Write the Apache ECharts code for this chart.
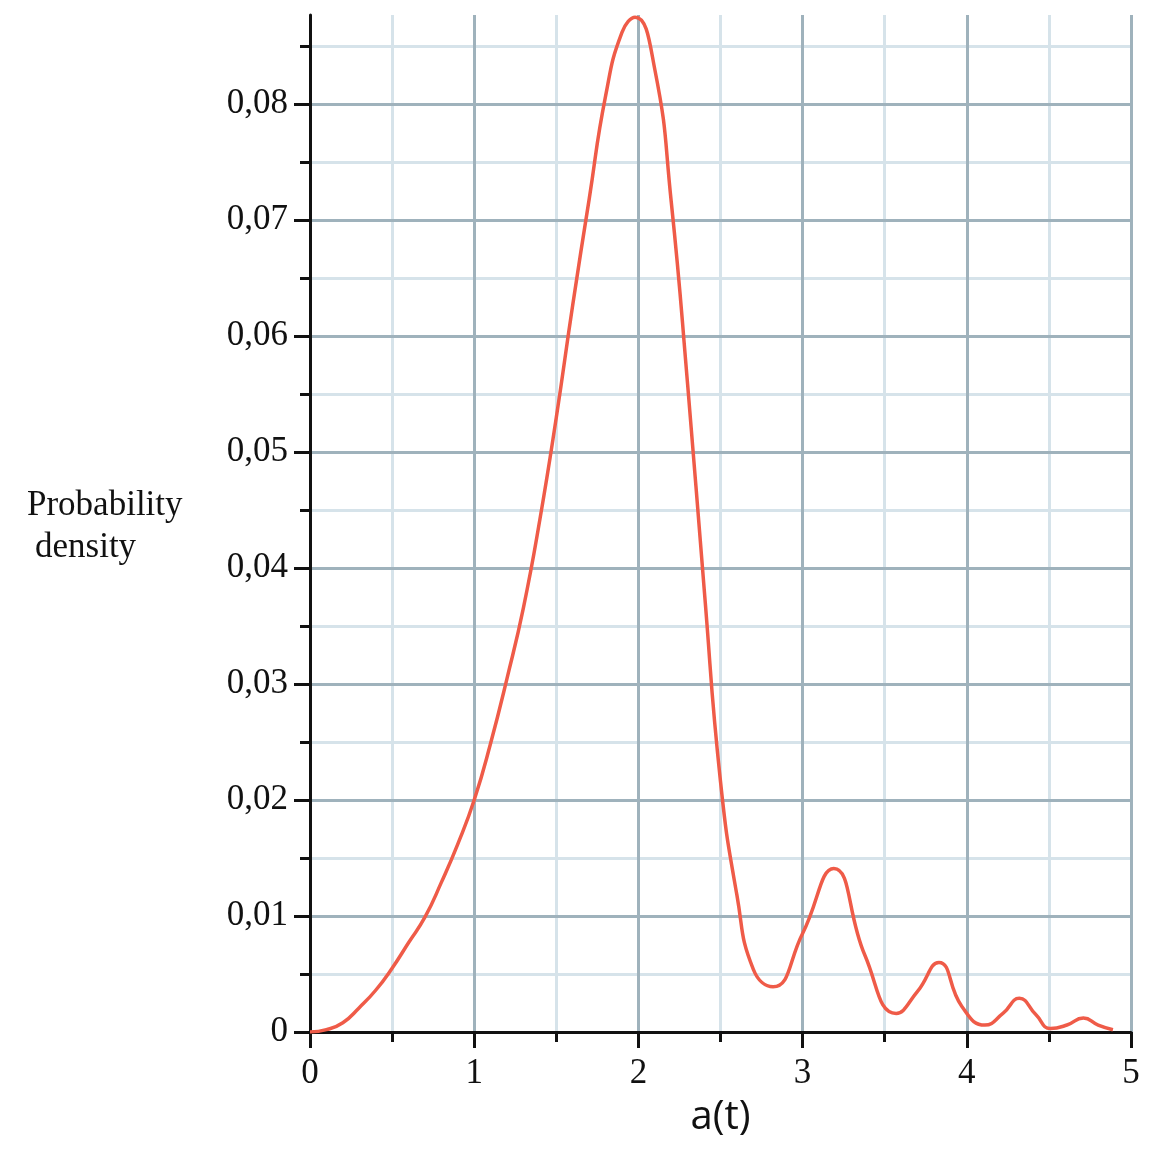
<!DOCTYPE html>
<html>
<head>
<meta charset="utf-8">
<title>Probability density</title>
<script src="https://cdn.jsdelivr.net/npm/echarts@6/dist/echarts.min.js"></script>
<style>
	html, body { margin: 0; padding: 0; background: #fff; }
	#chart { width: 1157px; height: 1157px; }
</style>
</head>
<body>
<div id="chart"></div>
<script>
// a(t) positions
var aValues = [0, 0.1, 0.2, 0.3, 0.4, 0.5, 0.6, 0.7, 0.8, 0.9,
	1.0, 1.1, 1.2, 1.3, 1.4, 1.5, 1.6, 1.7, 1.8, 1.9,
	1.98, 2.1, 2.2, 2.3, 2.4, 2.5, 2.6, 2.7, 2.82, 3.0,
	3.19, 3.38, 3.57, 3.7, 3.83, 3.97, 4.11, 4.22, 4.32, 4.42,
	4.51, 4.61, 4.71, 4.8, 4.89];
// probability density at those positions
var densityValues = [0, 0.0002, 0.0008, 0.0021, 0.0036, 0.0055, 0.0077, 0.0099, 0.0129, 0.0162,
	0.0200, 0.0249, 0.0305, 0.0366, 0.0442, 0.0530, 0.0627, 0.0718, 0.0807, 0.0862,
	0.0875, 0.0830, 0.0716, 0.0558, 0.0383, 0.0216, 0.0118, 0.0054, 0.0039, 0.0085,
	0.0141, 0.0066, 0.0016, 0.0035, 0.0060, 0.0022, 0.0006, 0.0016, 0.0029, 0.0015,
	0.0003, 0.0006, 0.0012, 0.0006, 0.0002];

var yMajorTicks = [0, 0.01, 0.02, 0.03, 0.04, 0.05, 0.06, 0.07, 0.08];
var yMinorTicks = [0.005, 0.015, 0.025, 0.035, 0.045, 0.055, 0.065, 0.075, 0.085];
var yMax = 0.0877;

var MAJOR = '#9fb2bc',
	MINOR = '#d6e3ea',
	INK = '#111111';

function serifLabel(extra) {
	var s = {
		fontFamily: 'Liberation Serif',
		fontSize: 35,
		color: INK
	};
	for (var k in extra) s[k] = extra[k];
	return s;
}

function showDensity() {
	var points = [];
	for (var i = 0; i < aValues.length; i++) {
		points.push([aValues[i], densityValues[i]]);
	}

	var chart = echarts.init(document.getElementById('chart'), null, { renderer: 'canvas' });
	chart.setOption({
		animation: false,
		backgroundColor: '#fff',
		grid: {
			left: 310,
			right: 26,
			top: 15,
			bottom: 125
		},
		graphic: [{
			type: 'text',
			left: 27,
			top: 488,
			style: {
				text: 'Probability',
				font: '35px "Liberation Serif"',
				fill: INK
			}
		}, {
			type: 'text',
			left: 35,
			top: 530,
			style: {
				text: 'density',
				font: '35px "Liberation Serif"',
				fill: INK
			}
		}],
		xAxis: [{
			type: 'value',
			min: 0,
			max: 5,
			interval: 1,
			name: 'a(t)',
			nameLocation: 'middle',
			nameGap: 66,
			nameTextStyle: {
				fontFamily: 'Open Sans',
				fontSize: 40,
				color: INK
			},
			axisLine: { show: true, onZero: false, lineStyle: { color: INK, width: 3 } },
			axisTick: { show: true, length: 16, lineStyle: { color: INK, width: 3 } },
			axisLabel: serifLabel({ margin: 24 }),
			splitLine: { show: true, showMinLine: false, lineStyle: { color: MAJOR, width: 3 } }
		}, {
			// half steps: light lines and short ticks
			type: 'value',
			min: 0,
			max: 5,
			interval: 0.5,
			position: 'bottom',
			z: -1,
			axisLine: { show: false },
			axisTick: { show: true, length: 10, lineStyle: { color: INK, width: 3 } },
			axisLabel: { show: false },
			splitLine: { show: true, showMinLine: false, lineStyle: { color: MINOR, width: 3 } }
		}],
		yAxis: [{
			type: 'value',
			min: 0,
			max: yMax,
			interval: 0.01,
			position: 'left',
			axisLine: { show: true, onZero: false, lineStyle: { color: INK, width: 3 } },
			axisTick: { show: true, length: 16, customValues: yMajorTicks, lineStyle: { color: INK, width: 3 } },
			axisLabel: serifLabel({
				margin: 22,
				customValues: yMajorTicks,
				formatter: function(v) {
					return v === 0 ? '0' : v.toFixed(2).replace('.', ',');
				}
			}),
			splitLine: { show: true, showMinLine: false, lineStyle: { color: MAJOR, width: 3 } }
		}, {
			// half steps on the density axis
			type: 'value',
			min: 0,
			max: yMax,
			interval: 0.005,
			position: 'left',
			z: -1,
			axisLine: { show: false },
			axisTick: { show: true, length: 10, customValues: yMinorTicks, lineStyle: { color: INK, width: 3 } },
			axisLabel: { show: false },
			splitLine: { show: true, lineStyle: { color: MINOR, width: 3 } }
		}],
		series: [{
			type: 'line',
			xAxisIndex: 0,
			yAxisIndex: 0,
			smooth: 0.5,
			showSymbol: false,
			lineStyle: {
				color: '#ef5b48',
				width: 3.5
			},
			data: points
		}]
	});
}

showDensity();
</script>
</body>
</html>
